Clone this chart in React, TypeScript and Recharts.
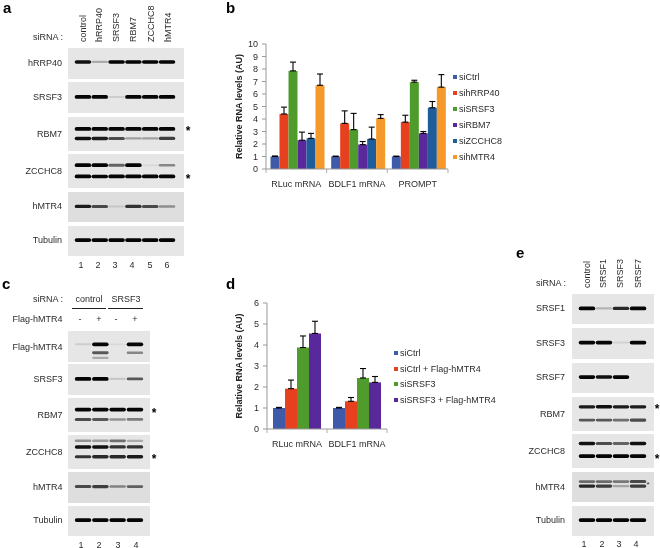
// Composite figure: western blot panels (a, c, e) and RNA level bar charts (b, d)
import {
  BarChart,
  Bar,
  ErrorBar,
  XAxis,
  YAxis,
  Legend,
  ScatterChart,
  Scatter,
} from "recharts";

const FONT = '"Liberation Sans", Arial, sans-serif';
const TEXT = "#2b2b2b";

// Chart b
const groupsB = ["RLuc mRNA", "BDLF1 mRNA", "PROMPT"];
const seriesB = ["siCtrl", "sihRRP40", "siSRSF3", "siRBM7", "siZCCHC8", "sihMTR4"];
const colorsB = ["#3f5aa8", "#e6401f", "#4f9c2c", "#59299b", "#1f5c9a", "#f4992a"];
const valuesB = [
  [1, 1, 1],
  [4.4, 3.65, 3.75],
  [7.85, 3.15, 6.95],
  [2.3, 1.95, 2.85],
  [2.45, 2.4, 4.9],
  [6.7, 4.05, 6.55],
];
const errorsB = [
  [0.04, 0.03, 0.03],
  [0.55, 1.0, 0.55],
  [0.7, 1.3, 0.15],
  [0.65, 0.25, 0.15],
  [0.4, 0.95, 0.5],
  [0.9, 0.3, 1.0],
];
const ticksB = [0, 1, 2, 3, 4, 5, 6, 7, 8, 9, 10];

// Chart d
const groupsD = ["RLuc mRNA", "BDLF1 mRNA"];
const seriesD = ["siCtrl", "siCtrl + Flag-hMTR4", "siSRSF3", "siSRSF3 + Flag-hMTR4"];
const colorsD = ["#3f5aa8", "#e6401f", "#4f9c2c", "#59299b"];
const valuesD = [
  [1, 1],
  [1.92, 1.32],
  [3.88, 2.43],
  [4.55, 2.22],
];
const errorsD = [
  [0.03, 0.03],
  [0.41, 0.18],
  [0.55, 0.45],
  [0.58, 0.28],
];
const ticksD = [0, 1, 2, 3, 4, 5, 6];

// Blots: lane intensities per band row, [row position in panel, intensities]
type Row = [number, number[]];
const blotA: [string, Row[]][] = [
  ["hRRP40", [[0.45, [0.9, 0.25, 0.95, 0.95, 0.95, 0.95]]]],
  ["SRSF3", [[0.48, [1, 1, 0.1, 1, 1, 1]]]],
  ["RBM7", [[0.35, [1, 1, 1, 1, 1, 1]], [0.63, [0.9, 0.85, 0.65, 0.3, 0.3, 0.7]]]],
  ["ZCCHC8", [[0.33, [1, 1, 0.55, 1, 0.05, 0.4]], [0.66, [1, 0.95, 1, 1, 1, 1]]]],
  ["hMTR4", [[0.48, [0.85, 0.65, 0.1, 0.75, 0.65, 0.35]]]],
  ["Tubulin", [[0.47, [1, 1, 1, 1, 1, 1]]]],
];
const blotC: [string, Row[]][] = [
  ["Flag-hMTR4", [[0.43, [0.1, 1, 0.05, 1]], [0.7, [0, 0.6, 0, 0.4]], [0.87, [0, 0.25, 0, 0]]]],
  ["SRSF3", [[0.48, [1, 1, 0.12, 0.6]]]],
  ["RBM7", [[0.34, [1, 1, 1, 1]], [0.63, [0.65, 0.6, 0.35, 0.45]]]],
  ["ZCCHC8", [[0.17, [0.35, 0.3, 0.5, 0.25]], [0.35, [0.9, 0.9, 0.75, 0.75]], [0.64, [0.75, 0.8, 0.8, 0.85]]]],
  ["hMTR4", [[0.47, [0.65, 0.7, 0.4, 0.55]]]],
  ["Tubulin", [[0.47, [1, 1, 1, 1]]]],
];
const blotE: [string, Row[]][] = [
  ["SRSF1", [[0.48, [1, 0.2, 0.8, 1]]]],
  ["SRSF3", [[0.47, [1, 1, 0.08, 1]]]],
  ["SRSF7", [[0.47, [0.95, 0.9, 1, 0]]]],
  ["RBM7", [[0.29, [0.85, 0.9, 0.85, 0.85]], [0.68, [0.6, 0.6, 0.5, 0.65]]]],
  ["ZCCHC8", [[0.28, [0.9, 0.65, 0.55, 0.9]], [0.65, [1, 0.95, 1, 1]]]],
  ["hMTR4", [[0.32, [0.5, 0.5, 0.45, 0.65]], [0.47, [0.8, 0.7, 0.25, 0.7]]]],
  ["Tubulin", [[0.47, [1, 1, 1, 1]]]],
];
const lanesA = ["control", "hRRP40", "SRSF3", "RBM7", "ZCCHC8", "hMTR4"];
const lanesE = ["control", "SRSF1", "SRSF3", "SRSF7"];

function Label({ x, y, children, align = "right", bold = false, size = 9 }: any) {
  const shift = align === "right" ? "-100%" : align === "center" ? "-50%" : "0";
  return (
    <div
      style={{
        position: "absolute",
        left: x,
        top: y,
        transform: `translate(${shift}, -50%)`,
        fontSize: size,
        fontWeight: bold ? 700 : 400,
        color: bold ? "#000" : TEXT,
        whiteSpace: "nowrap",
        lineHeight: 1,
      }}
    >
      {children}
    </div>
  );
}

function RotatedLabel({ x, bottom, children }: any) {
  return (
    <div
      style={{
        position: "absolute",
        left: x,
        top: bottom,
        transform: "rotate(-90deg) translateY(-50%)",
        transformOrigin: "0 0",
        fontSize: 9,
        color: TEXT,
        whiteSpace: "nowrap",
        lineHeight: 1,
      }}
    >
      {children}
    </div>
  );
}

// band gets thicker as it gets stronger
const BandShape = ({ cx, cy, payload }: any) => {
  const thick = 1.8 + 1.9 * payload.strength;
  return (
    <rect
      x={cx - payload.bandW / 2}
      y={cy - thick / 2}
      width={payload.bandW}
      height={thick}
      rx={thick / 2}
      fill="#050505"
      opacity={Math.min(1, payload.strength * 1.05)}
      style={{ filter: "blur(0.55px)" }}
    />
  );
};

// One membrane strip, bands are placed by the chart's lane and row scales
function BlotPanel({ left, top, width, height, rows, domain, bandW, background }: any) {
  const bands = rows.flatMap(([pos, strengths]: Row) =>
    strengths.map((strength, i) => ({ lane: i + 1, pos, strength, bandW })),
  );
  return (
    <div style={{ position: "absolute", left, top, width, height, background }}>
      <ScatterChart width={width} height={height} margin={{ top: 0, right: 0, bottom: 0, left: 0 }}>
        <XAxis type="number" dataKey="lane" domain={domain} hide />
        <YAxis type="number" dataKey="pos" domain={[0, 1]} reversed hide />
        <Scatter data={bands} shape={BandShape} isAnimationActive={false} />
      </ScatterChart>
    </div>
  );
}

function BlotStack({ blot, tops, heights, left, width, domain, bandW, labelX }: any) {
  return (
    <>
      {blot.map(([name, rows]: [string, Row[]], i: number) => (
        <div key={name}>
          <Label x={labelX} y={tops[i] + heights[i] * (rows.length > 1 ? 0.5 : 0.48)}>
            {name}
          </Label>
          <BlotPanel
            left={left}
            top={tops[i]}
            width={width}
            height={heights[i]}
            rows={rows}
            domain={domain}
            bandW={bandW}
            background={name === "hMTR4" ? "#dedede" : "#e6e6e6"}
          />
        </div>
      ))}
    </>
  );
}

const GroupTick = ({ x, y, payload, band }: any) => (
  <g>
    <line x1={x + band / 2} x2={x + band / 2} y1={y - 8} y2={y - 4} stroke="#999" strokeWidth={0.8} />
    {payload.index === 0 && (
      <line x1={x - band / 2} x2={x - band / 2} y1={y - 8} y2={y - 4} stroke="#999" strokeWidth={0.8} />
    )}
    <text x={x} y={y + 9.5} textAnchor="middle" fontSize={9} fill={TEXT} fontFamily={FONT}>
      {payload.value}
    </text>
  </g>
);

function LegendList({ items, colors, rowH }: any) {
  return (
    <div style={{ fontSize: 9, color: TEXT, fontFamily: FONT }}>
      {items.map((name: string, i: number) => (
        <div key={name} style={{ height: rowH, lineHeight: `${rowH}px`, whiteSpace: "nowrap" }}>
          <span
            style={{
              display: "inline-block",
              width: 4,
              height: 4,
              marginRight: 2,
              marginBottom: 1,
              background: colors[i],
            }}
          />
          {name}
        </div>
      ))}
    </div>
  );
}

function RnaChart({ left, top, groups, series, colors, values, errors, ticks, margin, yWidth, catGap, legendPos, rowH }: any) {
  const width = 300;
  const height = 200;
  const data = groups.map((group: string, g: number) => {
    const row: any = { group };
    series.forEach((s: string, i: number) => {
      row[s] = values[i][g];
      row[`${s}Err`] = [0, errors[i][g]];
    });
    return row;
  });
  const band = (width - yWidth - margin.left - margin.right) / groups.length;
  return (
    <div style={{ position: "absolute", left, top, width, height }}>
      <BarChart width={width} height={height} data={data} margin={margin} barCategoryGap={catGap} barGap={0}>
        <XAxis
          dataKey="group"
          height={20}
          interval={0}
          tickLine={false}
          stroke="#999"
          tick={<GroupTick band={band} />}
        />
        <YAxis
          width={yWidth}
          domain={[0, ticks[ticks.length - 1]]}
          ticks={ticks}
          interval={0}
          tickSize={4}
          tickMargin={4}
          stroke="#999"
          tick={{ fontSize: 9, fill: TEXT, fontFamily: FONT }}
          label={{
            value: "Relative RNA levels (AU)",
            angle: -90,
            position: "insideLeft",
            offset: 14,
            style: { textAnchor: "middle", fontSize: 9, fontWeight: 700, fill: "#222", fontFamily: FONT },
          }}
        />
        <Legend
          layout="vertical"
          align="center"
          verticalAlign="middle"
          wrapperStyle={{ ...legendPos, width: "auto" }}
          content={<LegendList items={series} colors={colors} rowH={rowH} />}
        />
        {series.map((s: string, i: number) => (
          <Bar key={s} dataKey={s} fill={colors[i]} isAnimationActive={false}>
            <ErrorBar dataKey={`${s}Err`} width={3} strokeWidth={1.1} stroke="#000" direction="y" />
          </Bar>
        ))}
      </BarChart>
    </div>
  );
}

export default function App() {
  return (
    <div
      style={{
        position: "absolute",
        left: 0,
        top: 0,
        width: 660,
        height: 548,
        overflow: "hidden",
        background: "#fff",
        fontFamily: FONT,
        filter: "blur(0.25px)",
      }}
    >
      {/* panel a */}
      <Label x={3} y={7} align="left" bold size={15}>a</Label>
      <Label x={63} y={37}>siRNA :</Label>
      {lanesA.map((name, i) => (
        <RotatedLabel key={name} x={[83, 99, 116, 133, 151, 168][i]} bottom={42}>{name}</RotatedLabel>
      ))}
      <BlotStack
        blot={blotA}
        tops={[48, 82, 117, 154, 192, 226]}
        heights={[31, 31, 34, 34, 30, 30]}
        left={68}
        width={116}
        domain={[0.11, 7.01]}
        bandW={16.5}
        labelX={62}
      />
      {[81, 98, 115, 132, 150, 167].map((x, i) => (
        <Label key={x} x={x} y={265} align="center">{i + 1}</Label>
      ))}
      <Label x={188} y={131} align="center" bold size={12}>*</Label>
      <Label x={188} y={179} align="center" bold size={12}>*</Label>

      {/* panel b */}
      <Label x={226} y={7} align="left" bold size={15}>b</Label>
      <RnaChart
        left={225}
        top={0}
        groups={groupsB}
        series={seriesB}
        colors={colorsB}
        values={valuesB}
        errors={errorsB}
        ticks={ticksB}
        margin={{ top: 44, right: 77, bottom: 11, left: 0 }}
        yWidth={41}
        catGap={4.5}
        legendPos={{ left: 228, top: 69 }}
        rowH={16}
      />

      {/* panel c */}
      <Label x={2} y={283} align="left" bold size={15}>c</Label>
      <Label x={63} y={299}>siRNA :</Label>
      <Label x={89} y={299} align="center">control</Label>
      <Label x={126} y={299} align="center">SRSF3</Label>
      <div style={{ position: "absolute", left: 72, top: 307.5, width: 34, height: 1, background: "#222" }} />
      <div style={{ position: "absolute", left: 108, top: 307.5, width: 35, height: 1, background: "#222" }} />
      <Label x={62.5} y={319}>Flag-hMTR4</Label>
      {["-", "+", "-", "+"].map((sign, i) => (
        <Label key={i} x={[80, 99, 116, 135][i]} y={319} align="center">{sign}</Label>
      ))}
      <BlotStack
        blot={blotC}
        tops={[331, 364, 398, 435, 472, 506]}
        heights={[31, 31, 34, 34, 31, 30]}
        left={68}
        width={82}
        domain={[0.13, 4.87]}
        bandW={16.5}
        labelX={62.5}
      />
      {[81, 99, 118, 136].map((x, i) => (
        <Label key={x} x={x} y={545} align="center">{i + 1}</Label>
      ))}
      <Label x={154} y={413} align="center" bold size={12}>*</Label>
      <Label x={154} y={459} align="center" bold size={12}>*</Label>

      {/* panel d */}
      <Label x={226} y={283} align="left" bold size={15}>d</Label>
      <RnaChart
        left={225}
        top={265}
        groups={groupsD}
        series={seriesD}
        colors={colorsD}
        values={valuesD}
        errors={errorsD}
        ticks={ticksD}
        margin={{ top: 38, right: 138, bottom: 16, left: 0 }}
        yWidth={42}
        catGap={6}
        legendPos={{ left: 169, top: 81 }}
        rowH={15.7}
      />

      {/* panel e */}
      <Label x={516} y={252} align="left" bold size={15}>e</Label>
      <Label x={566} y={283}>siRNA :</Label>
      {lanesE.map((name, i) => (
        <RotatedLabel key={name} x={[587, 603, 620, 638][i]} bottom={288}>{name}</RotatedLabel>
      ))}
      <BlotStack
        blot={blotE}
        tops={[294, 328, 363, 397, 434, 472, 506]}
        heights={[30, 31, 30, 34, 34, 30, 30]}
        left={572}
        width={82}
        domain={[0.12, 4.94]}
        bandW={16.5}
        labelX={565}
      />
      {[584, 602, 619, 636].map((x, i) => (
        <Label key={x} x={x} y={544} align="center">{i + 1}</Label>
      ))}
      <Label x={657} y={409} align="center" bold size={12}>*</Label>
      <Label x={657} y={459} align="center" bold size={12}>*</Label>
      <Label x={648} y={485} align="center" size={8}>*</Label>
    </div>
  );
}
